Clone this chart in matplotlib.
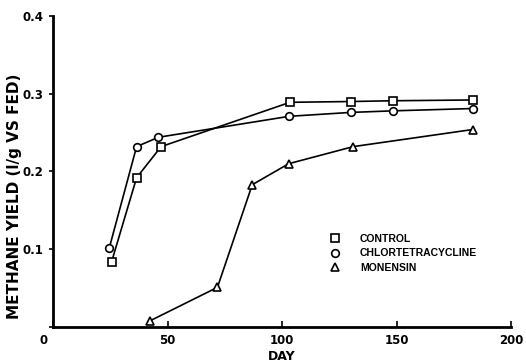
import matplotlib
matplotlib.use("Agg")
import matplotlib.pyplot as plt
from matplotlib.transforms import ScaledTranslation

# data
control_day = [25.6, 36.5, 47.2, 103.5, 130, 148.6, 183.5]
control_yield = [0.084, 0.192, 0.232, 0.289, 0.290, 0.291, 0.292]

chlor_day = [24.6, 36.5, 46.0, 103.2, 130, 148.3, 183.3]
chlor_yield = [0.102, 0.232, 0.244, 0.271, 0.276, 0.278, 0.281]

monensin_day = [42.4, 71.8, 87.0, 102.9, 131.1, 183.3]
monensin_yield = [0.008, 0.051, 0.183, 0.210, 0.232, 0.254]

x_ticks = [0, 50, 100, 150, 200]
y_ticks = [0, 0.1, 0.2, 0.3, 0.4]
y_ticklabels = ["", "0.1", "0.2", "0.3", "0.4"]

plt.rcParams['font.family'] = ['DejaVu Sans']
plt.rcParams['font.weight'] = 'bold'

fig = plt.figure(figsize=(5.26, 3.62), dpi=100)
ax = fig.add_axes([0.1008, 0.0967, 0.8707, 0.8591])

style = dict(color='black', lw=1.2, markerfacecolor='white',
             markeredgecolor='black', markeredgewidth=1.2, markersize=5.5)
ax.plot(control_day, control_yield, marker='s', label='CONTROL', **style)
ax.plot(chlor_day, chlor_yield, marker='o', label='CHLORTETRACYCLINE', **style)
ax.plot(monensin_day, monensin_yield, marker='^', label='MONENSIN', **style)

ax.set_xlim(0, 200)
ax.set_ylim(0, 0.4)
ax.set_xticks(x_ticks)
ax.set_yticks(y_ticks)
ax.set_yticklabels(y_ticklabels)
ax.tick_params(axis='x', direction='in', length=4, width=1.2, labelsize=8.5, pad=5)
ax.tick_params(axis='y', direction='out', length=3, width=1.2, labelsize=8.5, pad=4)

# the shared "0" sits left of the corner
lbl0 = ax.get_xticklabels()[0]
lbl0.set_transform(lbl0.get_transform() + ScaledTranslation(-0.09, 0, fig.dpi_scale_trans))

for s in ['top', 'right']:
    ax.spines[s].set_visible(False)
for s in ['left', 'bottom']:
    ax.spines[s].set_linewidth(2)

ax.set_xlabel('DAY', fontsize=9, fontweight='bold', labelpad=2)
ax.set_ylabel('METHANE YIELD (l/g VS FED)', fontsize=11, fontweight='bold')
ax.yaxis.set_label_coords(-0.068, 0.42)

leg = ax.legend(loc='upper left', bbox_to_anchor=(0.595, 0.33), frameon=False,
                prop={'family': 'Liberation Sans', 'weight': 'bold', 'size': 7.5},
                handlelength=0, handletextpad=2.4, labelspacing=0.45)
for h in leg.legend_handles:
    h.set_linestyle('none')

fig.savefig('out.png', dpi=100)
